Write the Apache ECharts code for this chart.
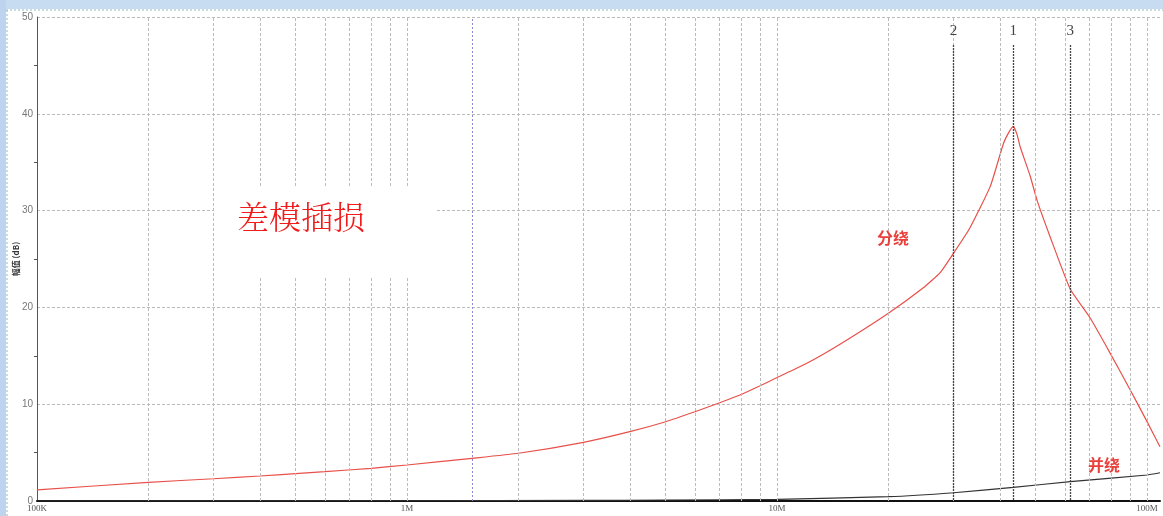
<!DOCTYPE html>
<html><head><meta charset="utf-8">
<script src="https://cdn.jsdelivr.net/npm/echarts@6/dist/echarts.min.js"></script>
<style>html,body{margin:0;padding:0;background:#fff}#c{width:1163px;height:516px}</style>
</head><body><div id="c"></div>
<script>
const redFreq = [1e5,2e5,3e5,4e5,5e5,6e5,8e5,1e6,1.5e6,2e6,3e6,4e6,5e6,6e6,7e6,8e6,9e6,1e7,1.2e7,1.48e7,2e7,2.48e7,2.76e7,3e7,3.32e7,3.77e7,4.09e7,4.22e7,4.35e7,4.45e7,4.54e7,4.83e7,5.05e7,5.47e7,6.2e7,7.02e7,7.94e7,9.0e7,1e8,1.084e8];
const redVal  = [1.14,1.93,2.3,2.58,2.82,3.03,3.38,3.72,4.41,4.93,6.06,7.16,8.19,9.22,10.15,11.0,11.9,12.75,14.2,16.2,19.4,22.0,23.6,25.6,28.2,32.5,36.9,38.0,38.7,37.9,36.6,33.6,31.0,27.3,21.9,18.9,15.3,11.5,8.2,5.6];
const blackFreq = [1e5,1e6,3e6,5e6,1e7,2e7,3e7,4.35e7,6.2e7,1e8,1.084e8];
const blackVal  = [0.0,0.03,0.06,0.1,0.17,0.45,0.86,1.41,2.0,2.69,2.92];
const markerFreq = [4.35e7,3e7,6.2e7];
const markerName = ['1','2','3'];
const refFreq = 1.5e6;
const xTickLabels = {100000:'100K',1000000:'1M',10000000:'10M',100000000:'100M'};
const xMin = 1e5, xMax = 1.084e8;
const gridFreqs = [];
for (let d = 1e5; d <= 1e8; d *= 10) { for (let k = 1; k <= 9; k++) { const f = d*k; if (f > xMin && f < xMax) gridFreqs.push(f); } }

const chart = echarts.init(document.getElementById('c'));
chart.setOption({
  backgroundColor:'#fff',
  animation:false,
  grid:{left:37,top:17,right:3,bottom:15,containLabel:false,outerBoundsMode:'none'},
  xAxis:{type:'log',logBase:10,min:xMin,max:xMax,
    axisLine:{lineStyle:{color:'#111',width:2}},
    axisTick:{show:false},
    splitLine:{show:false},
    axisLabel:{fontSize:9,color:'#555',fontFamily:'Liberation Serif',margin:3,
      formatter:v=>{const k=Math.round(v); return xTickLabels[k]!==undefined && Math.abs(v-k)/v<1e-6 ? xTickLabels[k] : '';}}
  },
  yAxis:{type:'value',min:0,max:50,interval:10,
    name:'幅值 (dB)',nameLocation:'middle',nameGap:17,nameRotate:90,nameMoveOverlap:false,
    nameTextStyle:{fontSize:8,color:'#333',fontWeight:'bold',fontFamily:'Noto Sans CJK SC'},
    axisLine:{show:true,lineStyle:{color:'#555',width:1}},
    axisTick:{show:false},
    minorTick:{show:true,splitNumber:2,length:3,lineStyle:{color:'#555'}},
    splitLine:{show:true,lineStyle:{color:'#bbb',type:[3,2],width:1}},
    axisLabel:{fontSize:10,color:'#777',margin:4,fontFamily:'Liberation Sans'}
  },
  graphic:[
    {type:'rect',left:0,top:0,shape:{width:1163,height:9},style:{fill:'#c8dcf1'},z:100,silent:true},
    {type:'rect',left:0,top:0,shape:{width:6,height:516},style:{fill:'#bdd3ee'},z:100,silent:true},
    {type:'line',shape:{x1:6,y1:10,x2:1163,y2:10},style:{stroke:'#8fb8c8',lineDash:[2,2],lineWidth:1},z:100,silent:true},
    {type:'line',shape:{x1:7,y1:10,x2:7,y2:516},style:{stroke:'#8fb8c8',lineDash:[2,2],lineWidth:1},z:100,silent:true},
    {type:'rect',left:214,top:187,shape:{width:221,height:91},style:{fill:'#fff'},z:50,silent:true},
    {type:'text',left:237,top:201,style:{text:'差模插损',fontSize:32,fill:'#f01c1c',fontFamily:"'Noto Serif CJK SC','Noto Sans CJK SC'",fontWeight:300},z:51,silent:true},
    {type:'text',left:877,top:230,style:{text:'分绕',fontSize:16,fill:'#e8403a',fontFamily:'Noto Sans CJK SC',fontWeight:'bold'},z:51,silent:true},
    {type:'text',left:1088,top:457,style:{text:'并绕',fontSize:16,fill:'#e8403a',fontFamily:'Noto Sans CJK SC',fontWeight:'bold'},z:51,silent:true}
  ],
  series:[
    {type:'line',data:[],z:1,silent:true,
      markLine:{silent:true,symbol:['none','none'],label:{show:false},
        lineStyle:{color:'#bbb',type:[3,2],width:1},
        data:gridFreqs.map(f=>({xAxis:f})).concat([{xAxis:refFreq,lineStyle:{color:'#8c8ccc',type:[2,2],width:1}}])}
    },
    {type:'line',data:[],z:2,silent:true,
      markLine:{silent:true,symbol:['none','none'],
        lineStyle:{color:'#444',type:[2,1],width:1.3},
        label:{show:true,position:'start',distance:7,fontSize:15,color:'#444',fontFamily:'Liberation Serif',formatter:p=>p.name},
        data:markerFreq.map((f,i)=>[{name:markerName[i],coord:[f,47.1]},{coord:[f,0]}])}
    },
    {name:'分绕',type:'line',z:3,showSymbol:false,smooth:0.15,
      lineStyle:{color:'#e8504a',width:1.2},
      data:redFreq.map((f,i)=>[f,redVal[i]])},
    {name:'并绕',type:'line',z:3,showSymbol:false,smooth:0.15,
      lineStyle:{color:'#333',width:1.1},
      data:blackFreq.map((f,i)=>[f,blackVal[i]])}
  ]
});
</script></body></html>
